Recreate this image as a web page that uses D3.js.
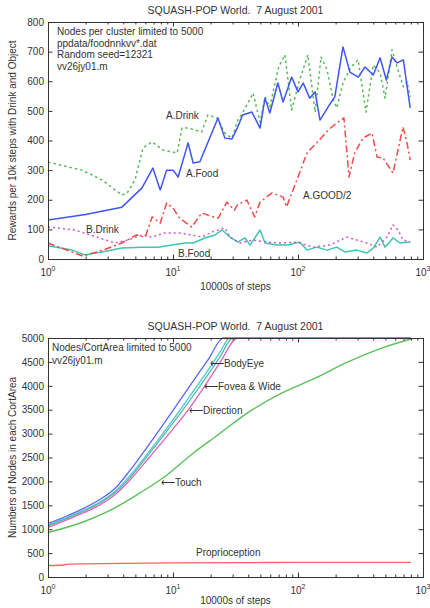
<!DOCTYPE html>
<html><head><meta charset="utf-8">
<script src="https://cdn.jsdelivr.net/npm/d3@7"></script>
<style>body{margin:0;background:#fff}svg{display:block}</style>
</head><body>
<script>
// ---------- Top chart data (x in 10000s of steps) ----------
const aFoodX = [1, 2, 3.9, 5.65, 6.9, 7.9, 8.9, 10, 11, 13.2, 14.5, 16.4, 22.9, 26, 29.6, 33, 36, 42.8, 49.7, 54.5, 59.5, 69, 76, 89, 100, 110, 124, 137, 150, 174, 197, 229, 260, 303, 344, 400, 454, 509, 565, 620, 696, 790];
const aFoodY = [132, 150, 175, 240, 307, 233, 300, 300, 277, 392, 324, 328, 476, 408, 405, 446, 486, 496, 442, 543, 493, 594, 530, 614, 564, 594, 543, 564, 469, 513, 547, 716, 631, 614, 648, 621, 679, 604, 682, 662, 672, 510];
const aDrinkX = [1, 1.87, 2.7, 3.9, 4.3, 4.97, 5.75, 6.8, 8.3, 10.8, 11.8, 13.2, 17, 19, 22.5, 26, 29.6, 33, 36, 43.7, 49.7, 54.5, 59.5, 70, 78.6, 89, 103, 120, 137, 153, 171, 190, 204, 229, 265, 303, 350, 400, 454, 497, 565, 620, 696, 746, 790];
const aDrinkY = [327, 300, 267, 216, 223, 267, 375, 395, 368, 358, 442, 442, 429, 486, 476, 425, 408, 469, 493, 560, 462, 547, 513, 648, 689, 503, 604, 689, 496, 682, 638, 543, 510, 594, 648, 672, 496, 655, 628, 543, 706, 648, 581, 598, 547];
const aGoodX = [1, 1.9, 2.75, 3.9, 5.1, 6, 6.8, 7.9, 8.9, 10, 11.3, 14.1, 17, 19, 23, 27, 31, 32.6, 39, 45, 49.7, 62, 76, 81, 98, 118, 141, 174, 204, 233, 256, 284, 331, 391, 429, 479, 575, 631, 692, 745, 790];
const aGoodY = [54, 10, 30, 54, 81, 74, 142, 121, 189, 172, 138, 108, 155, 148, 138, 192, 165, 182, 199, 142, 192, 223, 209, 176, 267, 358, 392, 435, 459, 476, 277, 358, 408, 425, 344, 341, 290, 368, 446, 392, 334];
const bDrinkX = [1, 1.64, 2.47, 3.43, 4.37, 5.65, 6.8, 8.6, 11, 14.1, 17, 20.5, 26, 28.6, 34.4, 43.7, 56.6, 71.9, 98, 132, 180, 246, 295, 355, 429, 516, 575, 631, 692, 790];
const bDrinkY = [108, 98, 74, 54, 64, 81, 74, 88, 88, 81, 74, 91, 105, 74, 54, 64, 57, 54, 57, 40, 47, 74, 64, 54, 40, 74, 115, 98, 64, 57];
const bFoodX = [1, 1.56, 1.98, 2.7, 3.9, 5.65, 7.6, 9.8, 12.5, 14.5, 18, 21.7, 24.7, 28.6, 33, 37.7, 41.3, 49.7, 54.5, 67.8, 83, 103, 118, 141, 171, 204, 237, 295, 355, 400, 454, 497, 575, 655, 790];
const bFoodY = [45, 30, 14, 24, 37, 40, 40, 47, 54, 54, 71, 81, 98, 74, 57, 71, 47, 98, 54, 47, 47, 57, 30, 40, 30, 40, 24, 30, 20, 37, 74, 40, 71, 54, 57];
const topYTicks = [0, 100, 200, 300, 400, 500, 600, 700, 800];

// ---------- Bottom chart data ----------
const bodyEyeX = [1, 1.37, 1.91, 2.6, 3.43, 4.53, 6.55, 10.4, 16.4, 19.7, 23.7, 25.1, 800];
const bodyEyeY = [1120, 1260, 1430, 1620, 1850, 2230, 2800, 3550, 4300, 4600, 4950, 5000, 5000];
const foveaX = [1, 1.37, 1.91, 2.6, 3.43, 4.53, 6.55, 10.4, 16.4, 19.7, 23.7, 28.6, 800];
const foveaY = [1090, 1230, 1390, 1570, 1790, 2120, 2650, 3350, 4080, 4380, 4700, 5000, 5000];
const wideX = [1, 1.37, 1.91, 2.6, 3.43, 4.53, 6.55, 10.4, 16.4, 19.7, 23.7, 30.2, 800];
const wideY = [1070, 1210, 1370, 1550, 1760, 2080, 2600, 3280, 3990, 4290, 4600, 5000, 5000];
const directionX = [1, 1.37, 1.91, 2.6, 3.43, 4.53, 6.55, 10.4, 13.7, 18.0, 23.7, 33.0, 800];
const directionY = [1040, 1180, 1340, 1510, 1720, 2030, 2520, 3150, 3550, 4000, 4480, 5000, 5000];
const touchX = [1, 1.91, 2.96, 5.45, 8.3, 14.5, 21.7, 39.8, 74.6, 137, 251, 468, 800];
const touchY = [930, 1150, 1360, 1760, 2070, 2590, 2930, 3440, 3850, 4160, 4500, 4790, 4980];
const proprioX = [1, 1.25, 1.45, 2, 4, 10, 40, 100, 800];
const proprioY = [240, 245, 270, 275, 285, 295, 300, 305, 305];
const botYTicks = [0, 500, 1000, 1500, 2000, 2500, 3000, 3500, 4000, 4500, 5000];

const xMajor = [1, 10, 100, 1000];
const xMinor = [];
[1, 10, 100].forEach(d => { for (let k = 2; k <= 9; k++) xMinor.push(d * k); });

const FONT = '"Liberation Sans", Arial, Helvetica, sans-serif';
const svg = d3.select("body").append("svg").attr("width", 430).attr("height", 608)
  .style("font-family", FONT);

function panel(o) {
  const x = d3.scaleLog().domain([1, 1000]).range([o.left, o.right]);
  const y = d3.scaleLinear().domain([0, o.ymax]).range([o.bottom, o.top]);
  const g = svg.append("g");

  const line = d3.line().x(d => x(d[0])).y(d => y(d[1])).curve(o.curve || d3.curveLinear);
  o.series.forEach(s => {
    g.append("path").datum(d3.zip(s.x, s.y)).attr("d", line)
      .attr("fill", "none").attr("stroke", s.color).attr("stroke-width", s.w || 1.4)
      .attr("stroke-dasharray", s.dash || null).attr("stroke-linejoin", "round");
  });

  const axStyle = sel => {
    sel.attr("color", "#333").attr("font-family", FONT).attr("font-size", 10);
    sel.selectAll("text").attr("fill", "#333");
  };
  [[d3.axisBottom, o.bottom], [d3.axisTop, o.top]].forEach(([ax, pos]) => {
    g.append("g").attr("transform", `translate(0,${pos})`)
      .call(ax(x).tickValues(xMinor).tickSizeInner(-2.5).tickSizeOuter(0).tickFormat(""))
      .call(axStyle);
    g.append("g").attr("transform", `translate(0,${pos})`)
      .call(ax(x).tickValues(xMajor).tickSizeInner(-4.5).tickSizeOuter(0).tickFormat(""))
      .call(axStyle);
  });
  g.append("g").attr("transform", `translate(${o.left},0)`)
    .call(d3.axisLeft(y).tickValues(o.yTicks).tickSizeInner(-4.5).tickSizeOuter(0)
      .tickPadding(4).tickFormat(d3.format("d")))
    .call(axStyle);
  g.append("g").attr("transform", `translate(${o.right},0)`)
    .call(d3.axisRight(y).tickValues(o.yTicks).tickSizeInner(-4.5).tickSizeOuter(0).tickFormat(""))
    .call(axStyle);

  xMajor.forEach((v, i) => {
    const t = g.append("text").attr("x", x(v)).attr("y", o.bottom + 17)
      .attr("text-anchor", "middle").attr("font-size", 10).attr("fill", "#333");
    t.append("tspan").text("10");
    t.append("tspan").attr("dy", -5).attr("font-size", 7).text(String(i));
  });

  g.append("text").attr("x", (o.left + o.right) / 2).attr("y", o.top - 8)
    .attr("text-anchor", "middle").attr("font-size", 10.5).attr("fill", "#333")
    .style("white-space", "pre").text(o.title);
  g.append("text").attr("x", (o.left + o.right) / 2).attr("y", o.bottom + o.xlabOff)
    .attr("text-anchor", "middle").attr("font-size", 10).attr("fill", "#333").text("10000s of steps");
  g.append("text").attr("transform", `translate(16,${(o.top + o.bottom) / 2}) rotate(-90)`)
    .attr("text-anchor", "middle").attr("font-size", 10).attr("fill", "#333").text(o.ylabel);

  o.notes.forEach(n => {
    g.append("text").attr("x", n[0]).attr("y", n[1]).attr("font-size", 10)
      .attr("fill", "#333").text(n[2]);
  });
  return { x, y };
}

panel({
  left: 48, right: 423, top: 22, bottom: 259, ymax: 800, yTicks: topYTicks, xlabOff: 31,
  title: "SQUASH-POP World.  7 August 2001",
  ylabel: "Rewards per 10k steps with Drink and Object",
  series: [
    { x: bFoodX, y: bFoodY, color: "#3fc4b0", w: 1.5 },
    { x: bDrinkX, y: bDrinkY, color: "#cc55d0", dash: "2,3", w: 1.5 },
    { x: aGoodX, y: aGoodY, color: "#f24a4a", dash: "7,3,2,3", w: 1.5 },
    { x: aDrinkX, y: aDrinkY, color: "#58b858", dash: "2.5,3", w: 1.5 },
    { x: aFoodX, y: aFoodY, color: "#3f55f2", w: 1.5 }
  ],
  notes: [
    [57, 35, "Nodes per cluster limited to 5000"],
    [57, 47, "ppdata/foodnnkvv*.dat"],
    [57, 58, "Random seed=12321"],
    [57, 70, "vv26jy01.m"],
    [166, 119, "A.Drink"],
    [186, 177, "A.Food"],
    [303, 199, "A.GOOD/2"],
    [86, 233, "B.Drink"],
    [178, 257, "B.Food"]
  ]
});

panel({
  left: 48, right: 423, top: 338, bottom: 577, ymax: 5000, yTicks: botYTicks, xlabOff: 27,
  title: "SQUASH-POP World.  7 August 2001",
  ylabel: "Numbers of Nodes in each CortArea",
  curve: d3.curveMonotoneX,
  series: [
    { x: proprioX, y: proprioY, color: "#ff6060", w: 1.4 },
    { x: touchX, y: touchY, color: "#5cbf5c", w: 1.4 },
    { x: bodyEyeX, y: bodyEyeY, color: "#5a66f5", w: 1.3 },
    { x: foveaX, y: foveaY, color: "#48c8d8", w: 1.3 },
    { x: wideX, y: wideY, color: "#5cb8a0", w: 1.3 },
    { x: directionX, y: directionY, color: "#e060c0", w: 1.3 }
  ],
  notes: [
    [52, 351, "Nodes/CortArea limited to 5000"],
    [52, 364, "vv26jy01.m"],
    [210, 367, "\u27F5BodyEye"],
    [204, 390, "\u27F5Fovea & Wide"],
    [189, 414, "\u27F5Direction"],
    [161, 486, "\u27F5Touch"],
    [196, 556, "Proprioception"]
  ]
});
</script>
</body></html>
